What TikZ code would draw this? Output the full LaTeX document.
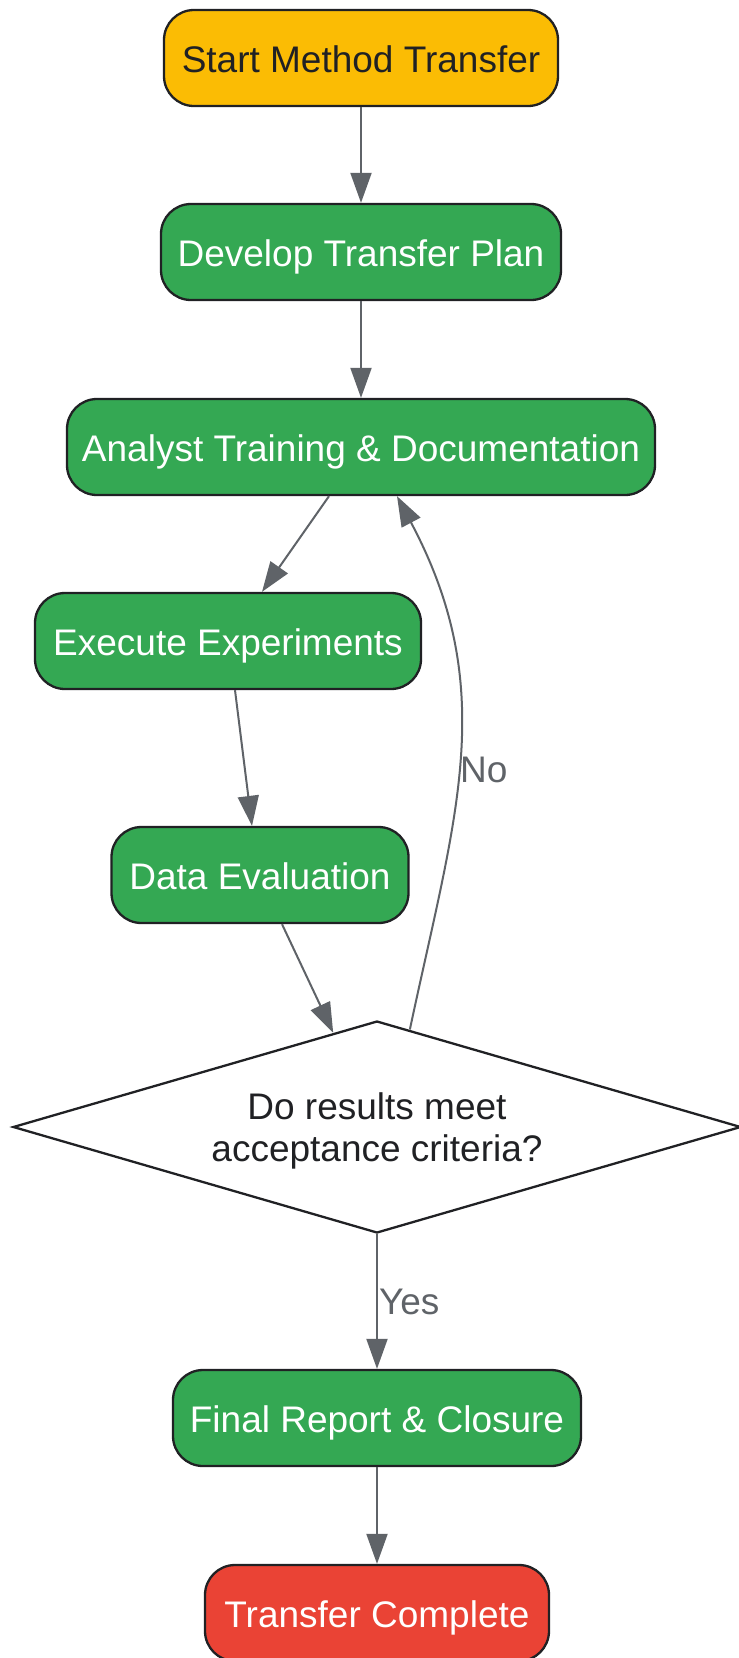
\documentclass[tikz,border=0pt]{standalone}
\usepackage{fontspec}
\setmainfont{Liberation Sans}
\usepackage{tikz}
\usetikzlibrary{arrows.meta,shapes.geometric,calc}

\definecolor{startyellow}{HTML}{FBBC04}
\definecolor{stepgreen}{HTML}{34A853}
\definecolor{endred}{HTML}{EA4335}
\definecolor{linegray}{HTML}{5F6368}
\definecolor{inkdark}{HTML}{202124}

\begin{document}
\begin{tikzpicture}[x=1pt, y=-1pt,
	every node/.style={font=\fontsize{37}{42}\selectfont},
	box/.style={rectangle, rounded corners=30pt, draw=inkdark, line width=2.3pt, fill=stepgreen, text=white, minimum height=96pt, inner sep=0pt, text height=28pt, text depth=0pt},
	decision/.style={diamond, aspect=3.4, draw=inkdark, line width=2.3pt, fill=white, text=inkdark, align=center, minimum width=728pt, minimum height=212pt, inner sep=0pt, text depth=0pt},
	lbl/.style={text=linegray, inner sep=1pt},
	every edge/.style={draw=linegray, line width=2pt, -{Triangle[length=30pt, width=21pt]}}]
					\useasboundingbox (0,0) rectangle (739,1658);
					
					\node[box, fill=startyellow, text=inkdark, minimum width=394pt] (start) at (361,58){Start Method Transfer};
					\node[box, minimum width=400pt] (plan) at (361,252){Develop Transfer Plan};
					\node[box, minimum width=588pt] (train) at (361,447){Analyst Training \& Documentation};
					\node[box, minimum width=386pt] (exec) at (228,641){Execute Experiments};
					\node[box, minimum width=297pt] (eval) at (260,875){Data Evaluation};
					\node[decision] (check) at (377,1127){Do results meet\\acceptance criteria?};
					\node[box, minimum width=408pt] (report) at (377,1418){Final Report \& Closure};
					\node[box, fill=endred, minimum width=344pt] (done) at (377,1613){Transfer Complete};
					
					\path (start) edge (plan);
					\path (plan) edge (train);
					\path ([xshift=-32pt]train.south) edge ([xshift=34pt]exec.north);
					\path ([xshift=7pt]exec.south) edge ([xshift=-8pt]eval.north);
					\path ([xshift=22pt]eval.south) edge ($(check.north)!0.12!(check.west)$);
					\path ($(check.north)!0.09!(check.east)$) edge[out=78, in=-62, looseness=1.05] node[lbl, pos=0.47, anchor=west]{No} ([xshift=36pt]train.south);
					\path (check) edge node[lbl, pos=0.5, anchor=west]{Yes} (report);
					\path (report) edge (done);
\end{tikzpicture}
\end{document}
